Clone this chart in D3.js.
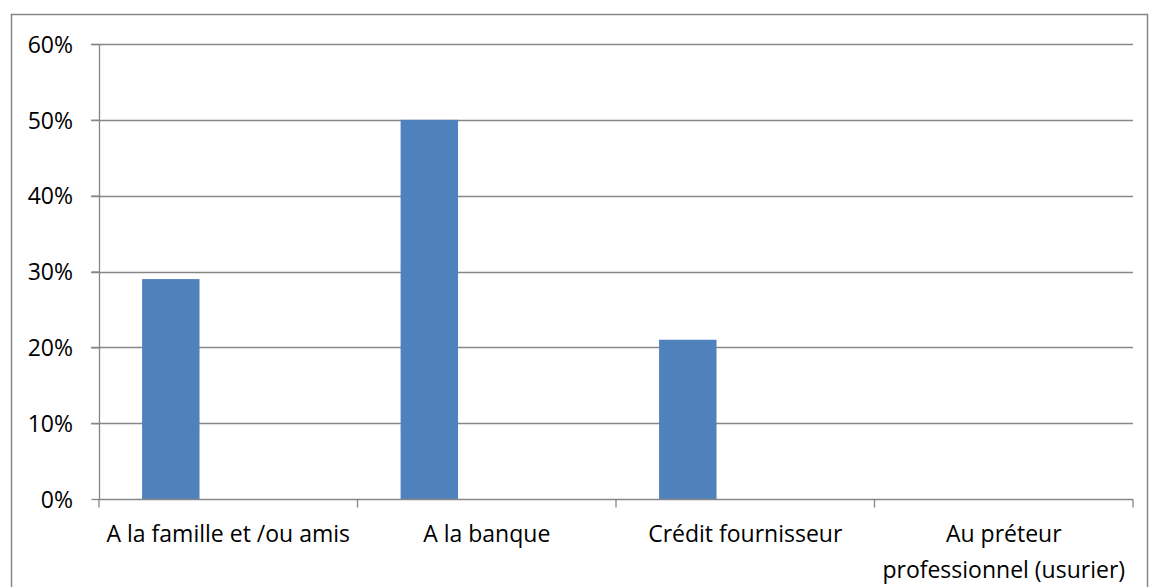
<!DOCTYPE html>
<html>
<head>
<meta charset="utf-8">
<script src="https://cdn.jsdelivr.net/npm/d3@7"></script>
<style>
  body { margin: 0; background: #fff; }
  text { font-family: "Open Sans", sans-serif; fill: #000; }
</style>
</head>
<body>
<script>
const categories = ["A la famille et /ou amis", "A la banque", "Crédit fournisseur", "Au préteur professionnel (usurier)"];
const labelLines = [["A la famille et /ou amis"], ["A la banque"], ["Crédit fournisseur"], ["Au préteur", "professionnel (usurier)"]];
const values = [0.29, 0.50, 0.21, 0];
const series = ["s1", "s2", "s3"]; // Excel clustered layout: only the first series holds data
const yTicks = [0, 0.1, 0.2, 0.3, 0.4, 0.5, 0.6];

const W = 1149, H = 587;
const margin = { left: 99, right: 16, top: 44, bottom: 88 };
const fontSize = 23;

const svg = d3.select("body").append("svg")
    .attr("width", W)
    .attr("height", H);

// outer chart border
svg.append("rect")
    .attr("x", 11.5).attr("y", 14.5)
    .attr("width", W - 13).attr("height", H)
    .attr("fill", "none")
    .attr("stroke", "#868686")
    .attr("stroke-width", 1.5);

const x = d3.scaleBand()
    .domain(categories)
    .range([margin.left, W - margin.right]);

// gap width 150% with 3 series
const inner = d3.scaleBand()
    .domain(series)
    .range([0, x.bandwidth()])
    .paddingOuter(0.75);

const y = d3.scaleLinear()
    .domain([0, 0.6])
    .range([H - margin.bottom, margin.top]);

// gridlines
svg.append("g")
    .selectAll("line")
    .data(yTicks.filter(d => d > 0))
    .enter().append("line")
    .attr("x1", margin.left - 8)
    .attr("x2", W - margin.right)
    .attr("y1", d => Math.round(y(d)) + 0.5)
    .attr("y2", d => Math.round(y(d)) + 0.5)
    .attr("stroke", "#868686")
    .attr("stroke-width", 1.3);

// bars
svg.append("g")
    .selectAll("rect")
    .data(categories)
    .enter().append("rect")
    .attr("x", d => x(d) + inner("s1"))
    .attr("width", inner.bandwidth())
    .attr("y", (d, i) => y(values[i]))
    .attr("height", (d, i) => y(0) - y(values[i]))
    .attr("fill", "#4f81bd");

// y axis
const yAxis = svg.append("g")
    .attr("transform", `translate(${margin.left + 0.5},0)`)
    .call(d3.axisLeft(y).tickValues(yTicks).tickFormat(d3.format(".0%")).tickSize(8).tickPadding(18.5));
yAxis.select(".domain").attr("stroke", "#868686").attr("stroke-width", 1.3).attr("d", `M0,${y(0.6)}V${y(0)}`);
yAxis.selectAll(".tick line").attr("stroke", "#868686").attr("stroke-width", 1.3);
yAxis.selectAll(".tick text")
    .attr("font-size", fontSize)
    .attr("font-family", "'Open Sans', sans-serif")
    .attr("fill", "#000")
    .attr("dy", "0.36em");

// x axis
const xAxisG = svg.append("g")
    .attr("transform", `translate(0,${Math.round(y(0)) + 0.5})`);
xAxisG.append("line")
    .attr("x1", margin.left).attr("x2", W - margin.right)
    .attr("stroke", "#868686").attr("stroke-width", 1.3);
xAxisG.selectAll(".xtick")
    .data(categories.concat([null]))
    .enter().append("line")
    .attr("x1", d => d === null ? W - margin.right : x(d))
    .attr("x2", d => d === null ? W - margin.right : x(d))
    .attr("y1", 0).attr("y2", 8)
    .attr("stroke", "#868686").attr("stroke-width", 1.3);

const xLabels = xAxisG.selectAll(".xlabel")
    .data(categories)
    .enter().append("text")
    .attr("text-anchor", "middle")
    .attr("font-size", fontSize)
    .attr("transform", d => `translate(${x(d) + x.bandwidth() / 2},0)`);
xLabels.selectAll("tspan")
    .data((d, i) => labelLines[i])
    .enter().append("tspan")
    .attr("x", 0)
    .attr("y", (d, i) => 42 + i * 36)
    .text(d => d);
</script>
</body>
</html>
